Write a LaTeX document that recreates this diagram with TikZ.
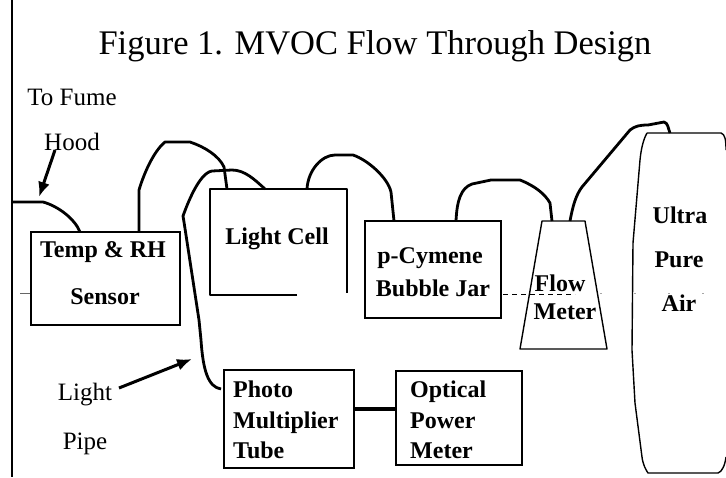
\documentclass[tikz,border=0pt]{standalone}
\usepackage{fontspec}
\setmainfont{Liberation Serif}
\usepackage{tikz}
\usetikzlibrary{arrows.meta}
\tikzset{
	boxnode/.style={draw=black,line width=1.4pt,inner sep=0pt},
	boxtext/.style={font=\fontsize{24}{24}\selectfont\bfseries,inner sep=0pt},
	plaintext/.style={font=\fontsize{25}{25}\selectfont,inner sep=0pt},
	tubeline/.style={line width=2.8pt,line join=round},
	thinline/.style={line width=1.4pt,line join=round},
	arrowline/.style={-{Latex[length=15pt,width=12pt]},line width=3pt}
}
\begin{document}
\begin{tikzpicture}[x=1pt,y=-1pt]
	\useasboundingbox (0,0) rectangle (726,477);
	
	% frame line and faint level
	\coordinate (F1) at (12,0);
	\coordinate (F2) at (12,477);
	\draw[thinline,line width=1.8pt] (F1) -- (F2);
	\coordinate (L1) at (20,293);
	\coordinate (L2) at (31,293);
	\draw[black!60,line width=0.8pt] (L1) -- (L2);
	\coordinate (L3) at (503,294);
	\coordinate (L4) at (575,294);
	\draw[line width=0.8pt,dash pattern=on 5pt off 4pt] (L3) -- (L4);
	\coordinate (L5) at (600,293);
	\coordinate (L6) at (726,293);
	\draw[black!35,line width=0.8pt,dash pattern=on 2pt off 32pt] (L5) -- (L6);
	
	% title
	\node[font=\fontsize{34.5}{34.5}\selectfont,inner sep=0pt] (title) at (375,46) {Figure 1. MVOC Flow Through Design};
	
	% boxes
	\node[boxnode,fill=white,minimum width=149pt,minimum height=93pt] (temp) at (105.5,278.5) {};
	\node[boxnode,fill=white,minimum width=136pt,minimum height=97pt] (jar) at (433,269.5) {};
	\node[boxnode,minimum width=130pt,minimum height=98pt] (photo) at (289,419) {};
	\node[boxnode,minimum width=126pt,minimum height=94pt] (power) at (459,418) {};
	
	% light cell, open at the corner
	\coordinate (C1) at (297,295);
	\coordinate (C2) at (347,293);
	\draw[thinline] (C1) -- (210,295) -- (210,189) -- (347,189) -- (C2);
	
	% flow meter
	\coordinate (M1) at (542,221);
	\coordinate (M2) at (585,221);
	\coordinate (M3) at (607,349);
	\coordinate (M4) at (520,349);
	\draw[thinline] (M1) -- (M2) -- (M3) -- (M4) -- cycle;
	
	% air tank
	\coordinate (A1) at (647,133);
	\draw[thinline] (A1) -- (721,133) .. controls (725,134) and (726,140) .. (726,150);
	\draw[thinline] (A1) .. controls (643,140) and (641,150) .. (640,160) -- (633,243) -- (632,350)
		-- (635,403) -- (642,457) .. controls (643,465) and (646,470) .. (648,473)
		-- (718,473) .. controls (722,472) and (725,465) .. (726,457);
	
	% tubes
	\coordinate (T1) at (12,202);
	\coordinate (T2) at (80,232);
	\draw[tubeline] (T1) -- (43,202) .. controls (58,206) and (75,219) .. (T2);
	\coordinate (T3) at (139,232);
	\coordinate (T4) at (227,189);
	\draw[tubeline] (T3) -- (139,190) .. controls (145,170) and (155,150) .. (165,142)
		-- (190,142) .. controls (205,147) and (219,156) .. (224,167) -- (T4);
	\coordinate (T5) at (265,189);
	\coordinate (T6) at (221,389);
	\draw[tubeline] (T5) .. controls (255,180) and (245,170) .. (232,170) -- (212,171)
		.. controls (199,173) and (187,205) .. (183,216) -- (184,222)
		-- (199,320) -- (201,340) .. controls (203,370) and (208,387) .. (T6);
	\coordinate (T7) at (307,189);
	\coordinate (T8) at (394,221);
	\draw[tubeline] (T7) .. controls (308,170) and (322,155) .. (335,155) -- (353,155)
		.. controls (368,160) and (388,178) .. (391,192) -- (T8);
	\coordinate (T9) at (456,221);
	\coordinate (T10) at (552,221);
	\draw[tubeline] (T9) .. controls (457,200) and (461,188) .. (472,184) -- (491,180) -- (520,180)
		.. controls (535,186) and (545,194) .. (550,203) -- (T10);
	\coordinate (T11) at (570,221);
	\coordinate (T12) at (670,133);
	\draw[tubeline] (T11) .. controls (573,205) and (576,195) .. (582,187) -- (630,130)
		.. controls (635,126) and (640,125) .. (648,125) -- (664,122) .. controls (668,123) and (668,128) .. (T12);
	\coordinate (J1) at (300,409);
	\draw[tubeline,line width=3.2pt] (J1 -| photo.east) -- (J1 -| power.west);
	
	% arrows
	\coordinate (H1) at (55,150);
	\coordinate (H2) at (39,197);
	\draw[arrowline] (H1) -- (H2);
	\coordinate (P1) at (119,388);
	\coordinate (P2) at (192,359);
	\draw[arrowline] (P1) -- (P2);
	
	% labels
	\node[plaintext] (fume) at (72,97) {To Fume};
	\node[plaintext] (hood) at (72,142) {Hood};
	\node[plaintext] (light) at (85,395) {Light};
	\node[plaintext] (pipe) at (85,444) {Pipe};
	\node[boxtext] (ltemp) at (103,252) {Temp \& RH};
	\node[boxtext] (lsens) at (105,297) {Sensor};
	\node[boxtext] (lcell) at (277,239) {Light Cell};
	\node[boxtext] (ljar1) at (430,258) {p-Cymene};
	\node[boxtext] (ljar2) at (433,288) {Bubble Jar};
	\node[boxtext] (lflow) at (560,283) {Flow};
	\node[boxtext] (lmeter) at (565,312) {Meter};
	\node[boxtext] (lultra) at (680,215) {Ultra};
	\node[boxtext] (lpure) at (679,260) {Pure};
	\node[boxtext] (lair) at (679,303) {Air};
	\node[boxtext,anchor=base west] (lph1) at (233,397) {Photo};
	\node[boxtext,anchor=base west] (lph2) at (233,428) {Multiplier};
	\node[boxtext,anchor=base west] (lph3) at (233,458) {Tube};
	\node[boxtext,anchor=base west] (lop1) at (410,397) {Optical};
	\node[boxtext,anchor=base west] (lop2) at (410,428) {Power};
	\node[boxtext,anchor=base west] (lop3) at (410,458) {Meter};
\end{tikzpicture}
\end{document}
